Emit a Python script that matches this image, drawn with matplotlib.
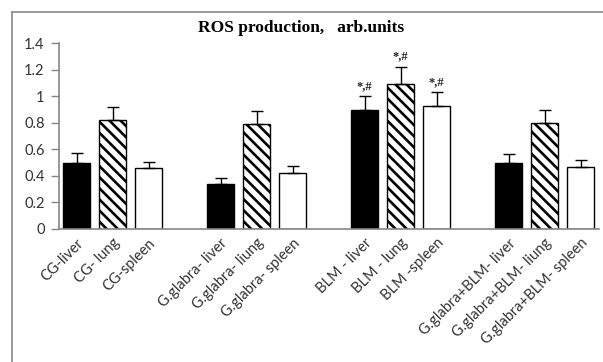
import matplotlib
matplotlib.use("Agg")
import matplotlib.pyplot as plt
from matplotlib.lines import Line2D
import numpy as np

labels = ["CG-liver", "CG- lung", "CG-spleen",
          "G.glabra- liver", "G.glabra- liung", "G.glabra- spleen",
          "BLM - liver", "BLM - lung", "BLM -spleen",
          "G.glabra+BLM- liver", "G.glabra+BLM- liung", "G.glabra+BLM- spleen"]
values = [0.50, 0.82, 0.46,
          0.34, 0.79, 0.42,
          0.90, 1.09, 0.925,
          0.50, 0.80, 0.47]
errors = [0.075, 0.10, 0.045,
          0.042, 0.10, 0.055,
          0.105, 0.135, 0.11,
          0.065, 0.10, 0.053]
annotations = ["", "", "", "", "", "", "*,#", "*,#", "*,#", "", "", ""]
organ_style = ["liver", "lung", "spleen"] * 4

plt.rcParams['hatch.linewidth'] = 1.9
plt.rcParams['hatch.color'] = 'black'

fig = plt.figure(figsize=(6.03, 3.62), dpi=100)
ax = fig.add_axes([58.5/603, 1-229/362, 540/603, (229-43.3)/362])

# slot positions: groups of 3 with one empty slot between groups
positions = []
for i in range(len(values)):
    g, k = divmod(i, 3)
    positions.append(g * 4 + k)
positions = np.array(positions)

for x, v, e, s in zip(positions, values, errors, organ_style):
    if s == "liver":
        fc, h = "black", None
    elif s == "lung":
        fc, h = "white", "\\\\\\"
    else:
        fc, h = "white", None
    ax.bar(x, v, width=0.75, color=fc, edgecolor="black", linewidth=1.0,
           hatch=h, zorder=2)
    ax.errorbar(x, v, yerr=[[0], [e]], fmt="none", ecolor="black",
                elinewidth=1.0, capsize=4, capthick=1.0, zorder=3)

for x, v, e, a in zip(positions, values, errors, annotations):
    if a:
        ax.text(x, v + e + 0.03, a, ha="center", va="bottom",
                fontsize=9, fontweight="bold", family="Liberation Serif",
                color="#222222")

ax.set_xlim(-0.5, 14.5)
ax.set_ylim(0, 1.4)
ax.set_yticks(np.arange(0, 1.41, 0.2))
ax.set_yticklabels(["0", "0.2", "0.4", "0.6", "0.8", "1", "1.2", "1.4"])
ax.set_xticks(positions)
ax.set_xticklabels(labels, rotation=45, ha="right", va="top",
                   rotation_mode="anchor")
for lab in ax.get_xticklabels() + ax.get_yticklabels():
    lab.set_family("Lato")
    lab.set_fontsize(10.5)
    lab.set_color("#333333")

ax.tick_params(axis="x", length=0, pad=5)
ax.tick_params(axis="y", length=6, width=1, color="#868686", pad=4)
for sp in ["top", "right"]:
    ax.spines[sp].set_visible(False)
for sp in ["left", "bottom"]:
    ax.spines[sp].set_color("#868686")
    ax.spines[sp].set_linewidth(1.2)

fig.text(0.5, 1-28/362, "ROS production,   arb.units", ha="center", va="center",
         fontsize=12.5, fontweight="bold", family="Liberation Serif")

# figure frame lines (top and left)
fig.add_artist(Line2D([12/603, 1], [1-12/362, 1-12/362], color="#8a8a8a",
                      linewidth=1.2, transform=fig.transFigure))
fig.add_artist(Line2D([12/603, 12/603], [0, 1-12/362], color="#8a8a8a",
                      linewidth=1.2, transform=fig.transFigure))

fig.savefig("out.png", dpi=100)
